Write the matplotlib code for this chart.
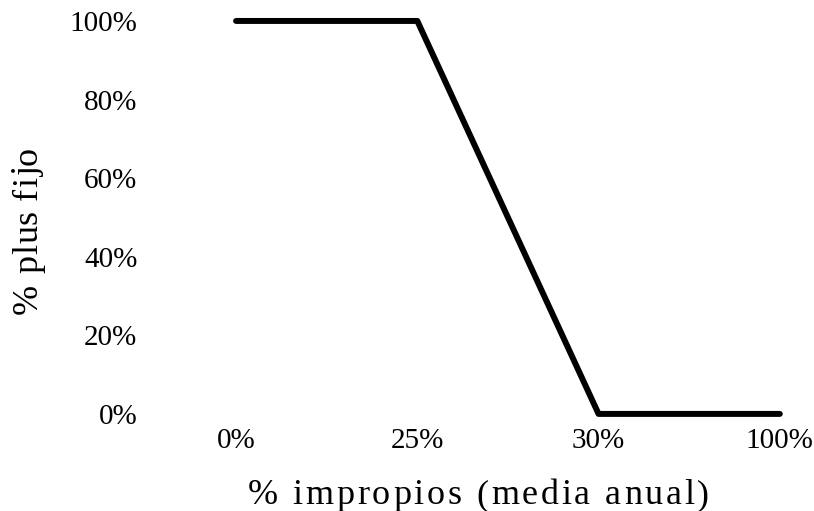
import matplotlib
matplotlib.use('Agg')
from matplotlib import pyplot as plt
from matplotlib.font_manager import FontProperties, findfont, get_font

# data
categorias = ['0%', '25%', '30%', '100%']
plus_fijo = [100, 100, 0, 0]
y_ticks = [0, 20, 40, 60, 80, 100]
y_labels = ['0%', '20%', '40%', '60%', '80%', '100%']
x_title = '% impropios (media anual)'
y_title = '% plus fijo'

FAMILY = 'Liberation Serif'
W, H, DPI = 814, 511, 100
plt.rcParams['font.family'] = [FAMILY, 'DejaVu Serif']


def advances(s, size):
    font = get_font(findfont(FontProperties(family=FAMILY)))
    font.set_size(size, DPI)
    return [font.load_char(ord(c)).linearHoriAdvance / 65536 for c in s]


def spaced_text(fig, s, size, start, span, base, vertical=False):
    # the title letters are spread out in the original, so place them one by one
    adv = advances(s, size)
    track = (span - sum(adv)) / (len(s) - 1)
    pos = start
    for c, a in zip(s, adv):
        if vertical:
            fig.text(base / W, 1 - pos / H, c, fontsize=size, rotation=90,
                     rotation_mode='anchor', ha='left', va='baseline')
            pos -= a + track
        else:
            fig.text(pos / W, 1 - base / H, c, fontsize=size,
                     ha='left', va='baseline')
            pos += a + track


fig = plt.figure(figsize=(W / DPI, H / DPI), dpi=DPI)
ax = fig.add_axes([0.29, 0.19, 0.668, 0.769])

x = list(range(len(categorias)))
ax.plot(x, plus_fijo, color='black', linewidth=4.3, solid_capstyle='round',
        solid_joinstyle='round', clip_on=False)

ax.set_xlim(0, len(categorias) - 1)
ax.set_ylim(0, 100)
ax.set_xticks(x)
ax.set_xticklabels(categorias)
ax.set_yticks(y_ticks)
ax.set_yticklabels(y_labels)
for s in ax.spines.values():
    s.set_visible(False)
ax.tick_params(axis='both', length=0, labelsize=21, colors='black')
ax.tick_params(axis='y', pad=71)
ax.tick_params(axis='x', pad=10)

spaced_text(fig, x_title, 26, 248, 461, 504)
spaced_text(fig, y_title, 26, 314, 167, 37, vertical=True)

fig.savefig('out.png', dpi=DPI)
